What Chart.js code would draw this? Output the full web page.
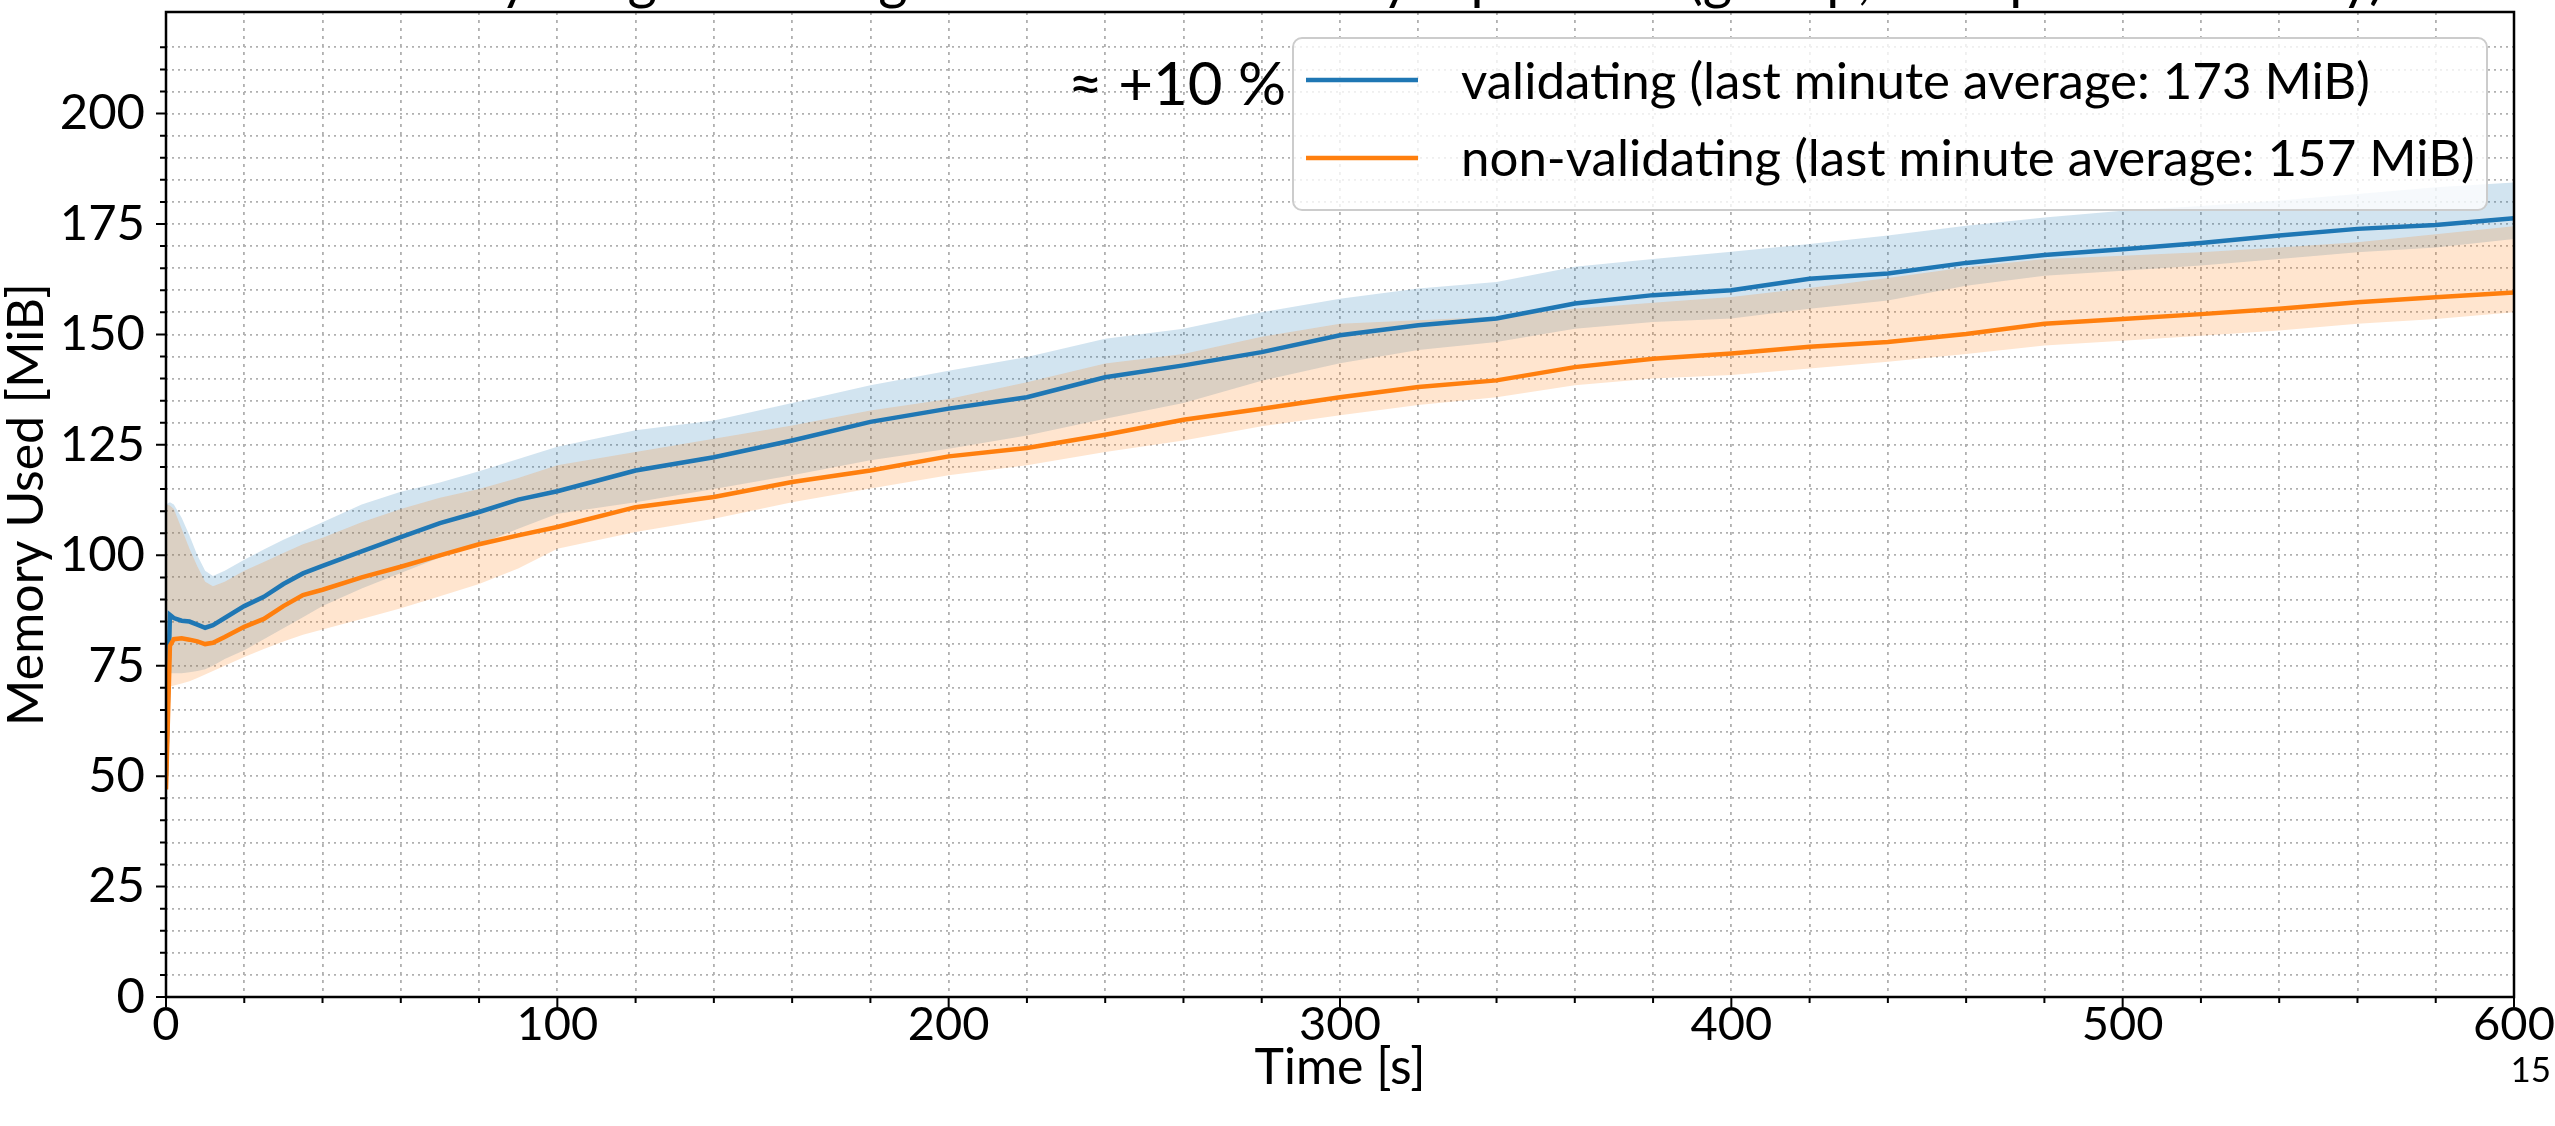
<!DOCTYPE html>
<html>
<head>
<meta charset="utf-8">
<script src="https://cdn.jsdelivr.net/npm/chart.js@4.4.0/dist/chart.umd.min.js"></script>
<style>
  html, body { margin: 0; padding: 0; background: #fff; }
  canvas { display: block; }
</style>
</head>
<body>
<canvas id="memChart" width="2555" height="1126"></canvas>
<script>
// Time axis (s)
const timeS = [0, 1, 2, 4, 6, 8, 10, 12, 15, 20, 25, 30, 35, 40, 50, 60, 70, 80, 90, 100,
  120, 140, 160, 180, 200, 220, 240, 260, 280, 300, 320, 340, 360, 380, 400, 420, 440,
  460, 480, 500, 520, 540, 560, 580, 600];

// validating node (MiB)
const validatingMean = [50, 86.5, 85.8, 85.2, 85.0, 84.3, 83.6, 84.2, 85.8, 88.5, 90.6, 93.5, 95.9, 97.6,
  100.9, 104.1, 107.3, 109.8, 112.6, 114.5, 119.2, 122.2, 126.0, 130.2, 133.2, 135.8, 140.3, 143.0,
  146.0, 149.8, 152.1, 153.6, 157.0, 158.9, 160.0, 162.6, 163.8, 166.2, 168.0, 169.3, 170.7, 172.4,
  173.9, 174.8, 176.3];
const validatingUpper = [111.5, 112.0, 111.5, 108.5, 104.5, 100.0, 96.5, 95.3, 96.5, 99.0, 101.3, 103.5,
  105.5, 107.5, 111.5, 114.4, 116.5, 119.0, 121.8, 124.6, 128.3, 130.5, 134.5, 138.5, 141.8, 144.9,
  149.0, 151.3, 155.0, 158.1, 160.4, 161.9, 165.3, 167.1, 168.7, 170.5, 172.4, 174.6, 176.5, 178.0,
  179.1, 180.3, 181.8, 183.3, 184.4];
const validatingLower = [73.5, 73.3, 73.3, 73.3, 73.5, 73.8, 74.2, 75.0, 76.5, 78.5, 81.0, 83.5, 86.0,
  88.5, 92.5, 96.0, 99.5, 102.5, 106.0, 109.4, 112.0, 115.0, 118.1, 121.5, 124.1, 127.1, 130.9, 134.5,
  139.5, 143.5, 146.5, 148.3, 151.3, 152.8, 153.6, 155.8, 157.7, 161.0, 163.3, 164.4, 165.6, 167.1,
  168.6, 169.7, 171.6];

// non-validating node (MiB)
const nonValidatingMean = [47, 79.5, 81.0, 81.2, 80.9, 80.5, 79.9, 80.2, 81.5, 83.8, 85.6, 88.5, 91.0,
  92.2, 95.0, 97.4, 100.0, 102.5, 104.5, 106.4, 110.9, 113.2, 116.6, 119.2, 122.4, 124.3, 127.3, 130.7,
  133.2, 135.8, 138.1, 139.6, 142.6, 144.5, 145.7, 147.2, 148.3, 150.1, 152.4, 153.5, 154.6, 155.8,
  157.3, 158.4, 159.5];
const nonValidatingUpper = [111.5, 111.3, 110.5, 106.0, 101.5, 97.5, 94.0, 93.0, 94.0, 96.5, 98.5, 100.5,
  102.5, 104.0, 107.5, 110.5, 113.0, 115.0, 117.5, 120.4, 123.4, 126.4, 129.4, 132.8, 135.4, 139.2,
  143.4, 145.6, 149.5, 152.4, 153.2, 154.0, 155.8, 157.2, 158.5, 160.5, 162.8, 165.2, 167.1, 167.8,
  168.6, 169.7, 170.9, 172.7, 174.5];
const nonValidatingLower = [70.0, 70.3, 70.5, 71.0, 71.5, 72.2, 73.0, 73.8, 75.0, 77.0, 78.8, 80.5, 82.0,
  83.2, 85.6, 88.0, 90.7, 93.5, 97.0, 101.5, 105.3, 108.3, 112.0, 115.1, 118.1, 120.4, 123.4, 126.0,
  129.2, 131.7, 134.0, 135.8, 138.5, 140.0, 140.8, 142.3, 143.8, 145.6, 147.5, 148.6, 149.7, 150.9,
  152.4, 153.5, 155.0];

const seriesLabels = ['validating (last minute average: 173 MiB)', 'non-validating (last minute average: 157 MiB)'];
const yMajorTicks = [0, 25, 50, 75, 100, 125, 150, 175, 200];
const xMajorTicks = [0, 100, 200, 300, 400, 500, 600];
const chartTitle = 'Memory usage of a single node under heavy input load (gossip, with peer discovery)';
const diffNote = '\u2248 +10 %';
const pageNumber = '15';

const BLUE = '#1f77b4';
const ORANGE = '#ff7f0e';
const FONT = 'Lato';

const pts = arr => arr.map((v, i) => ({ x: timeS[i], y: v }));

// Dessin du cadre, des graduations et des textes
const overlayPlugin = {
  id: 'overlay',
  afterDraw(chart) {
    const { ctx, chartArea: a, scales: { x, y } } = chart;
    ctx.save();
    ctx.strokeStyle = '#000';
    ctx.lineWidth = 2;
    ctx.setLineDash([]);
    ctx.beginPath();
    y.ticks.forEach(t => {
      if (t.value > 220) return;
      const py = y.getPixelForValue(t.value);
      const len = yMajorTicks.includes(t.value) ? 10 : 6;
      ctx.moveTo(a.left - len, py);
      ctx.lineTo(a.left, py);
    });
    x.ticks.forEach(t => {
      const px = x.getPixelForValue(t.value);
      const len = xMajorTicks.includes(t.value) ? 10 : 6;
      ctx.moveTo(px, a.bottom);
      ctx.lineTo(px, a.bottom + len);
    });
    ctx.stroke();

    ctx.lineWidth = 2.5;
    ctx.strokeRect(a.left, a.top, a.right - a.left, a.bottom - a.top);

    // titre (coupé en haut)
    ctx.fillStyle = '#000';
    ctx.font = `100px ${FONT}`;
    const titleSize = 100 * 2065 / ctx.measureText(chartTitle).width;
    ctx.font = `${titleSize}px ${FONT}`;
    ctx.textAlign = 'center';
    ctx.textBaseline = 'alphabetic';
    ctx.fillText(chartTitle, 1352, -2);

    // axis titles
    ctx.font = `50px ${FONT}`;
    ctx.textBaseline = 'middle';
    ctx.fillText('Time [s]', (a.left + a.right) / 2, 1068);
    ctx.save();
    ctx.translate(27, (a.top + a.bottom) / 2);
    ctx.rotate(-Math.PI / 2);
    ctx.fillText('Memory Used [MiB]', 0, 0);
    ctx.restore();

    // legend
    const box = { x: 1293, y: 38, w: 1194, h: 172 };
    ctx.beginPath();
    ctx.roundRect(box.x, box.y, box.w, box.h, 9);
    ctx.fillStyle = 'rgba(255,255,255,0.8)';
    ctx.fill();
    ctx.strokeStyle = '#cccccc';
    ctx.lineWidth = 2;
    ctx.stroke();
    const rows = [
      { label: seriesLabels[0], color: BLUE, hy: 80, by: 99 },
      { label: seriesLabels[1], color: ORANGE, hy: 158, by: 176 }
    ];
    ctx.font = `51px ${FONT}`;
    ctx.textAlign = 'left';
    ctx.textBaseline = 'alphabetic';
    rows.forEach(r => {
      ctx.strokeStyle = r.color;
      ctx.lineWidth = 4.5;
      ctx.beginPath();
      ctx.moveTo(1306, r.hy);
      ctx.lineTo(1418, r.hy);
      ctx.stroke();
      ctx.fillStyle = '#000';
      ctx.fillText(r.label, 1461, r.by);
    });

    // note ≈ +10 %
    ctx.font = `60px ${FONT}`;
    ctx.textAlign = 'right';
    ctx.fillText(diffNote, 1286, 105);

    // numéro de page
    ctx.font = `35px ${FONT}`;
    ctx.textAlign = 'right';
    ctx.fillText(pageNumber, 2551, 1082);
    ctx.restore();
  }
};

const ctx = document.getElementById('memChart');
new Chart(ctx, {
  type: 'line',
  data: {
    datasets: [
      { label: seriesLabels[0], data: pts(validatingMean), borderColor: BLUE, borderWidth: 4.5, pointRadius: 0, fill: false, order: 1 },
      { label: seriesLabels[1], data: pts(nonValidatingMean), borderColor: ORANGE, borderWidth: 4.5, pointRadius: 0, fill: false, order: 0 },
      { label: 'v-low', data: pts(validatingLower), borderColor: 'transparent', borderWidth: 0, pointRadius: 0, fill: false, order: 3 },
      { label: 'v-high', data: pts(validatingUpper), borderColor: 'transparent', borderWidth: 0, pointRadius: 0,
        fill: 2, backgroundColor: 'rgba(31,119,180,0.2)', order: 3 },
      { label: 'nv-low', data: pts(nonValidatingLower), borderColor: 'transparent', borderWidth: 0, pointRadius: 0, fill: false, order: 2 },
      { label: 'nv-high', data: pts(nonValidatingUpper), borderColor: 'transparent', borderWidth: 0, pointRadius: 0,
        fill: 4, backgroundColor: 'rgba(255,127,14,0.2)', order: 2 }
    ]
  },
  options: {
    responsive: false,
    animation: false,
    devicePixelRatio: 1,
    layout: { padding: { top: 12, right: 41, left: 0, bottom: 0 } },
    plugins: {
      legend: { display: false },
      tooltip: { enabled: false },
      title: { display: false }
    },
    elements: { line: { tension: 0 } },
    scales: {
      x: {
        type: 'linear',
        min: 0,
        max: 600,
        afterFit: s => { s.height = 129; s.paddingLeft = 0; s.paddingRight = 0; },
        border: { display: false, dash: [3, 5] },
        grid: { color: '#b0b0b0', lineWidth: 1.8, drawTicks: false },
        ticks: {
          stepSize: 20,
          autoSkip: false,
          maxRotation: 0,
          padding: 0,
          color: '#000',
          font: { family: FONT, size: 47 },
          callback: v => (xMajorTicks.includes(v) ? String(v) : '')
        }
      },
      y: {
        min: 0,
        max: 223,
        afterFit: s => { s.width = 166; s.paddingTop = 0; s.paddingBottom = 0; },
        border: { display: false, dash: [2, 4] },
        grid: { color: '#b0b0b0', lineWidth: 1.8, drawTicks: false },
        ticks: {
          stepSize: 5,
          autoSkip: false,
          padding: 21,
          color: '#000',
          font: { family: FONT, size: 49 },
          callback: v => (yMajorTicks.includes(v) ? String(v) : '')
        }
      }
    }
  },
  plugins: [overlayPlugin]
});
</script>
</body>
</html>
